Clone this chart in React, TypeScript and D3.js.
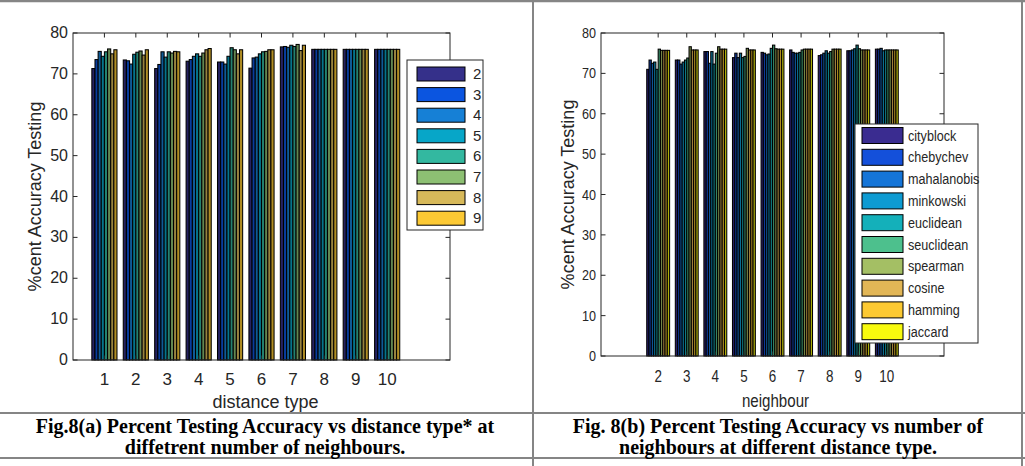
import * as d3 from "d3";

// Fig 8(a): accuracy by distance type (1..10), one bar per number of neighbours (2..9)
const distanceTypes = [1, 2, 3, 4, 5, 6, 7, 8, 9, 10];
const neighbourSeries = ["2", "3", "4", "5", "6", "7", "8", "9"];
const accByDistance = [
  [71.3, 73.5, 75.5, 74.3, 75.4, 76.1, 74.9, 75.9],
  [73.4, 73.2, 72.4, 74.8, 75.3, 75.6, 74.6, 75.9],
  [71.3, 72.3, 75.4, 74.1, 75.4, 75.1, 75.5, 75.4],
  [73.1, 73.5, 74.3, 74.9, 74.3, 75.1, 75.9, 76.2],
  [72.9, 72.9, 72.4, 74.3, 76.4, 75.9, 74.9, 75.9],
  [71.4, 73.9, 74.1, 74.9, 75.4, 75.5, 75.9, 75.9],
  [76.6, 76.7, 76.5, 77.0, 76.7, 77.2, 75.7, 77.0],
  [76.0, 76.0, 76.0, 76.0, 76.0, 76.0, 76.0, 76.0],
  [76.0, 76.0, 76.0, 76.0, 76.0, 76.0, 76.0, 76.0],
  [76.0, 76.0, 76.0, 76.0, 76.0, 76.0, 76.0, 76.0],
];
const colorsA = ["#35308a", "#0b55e0", "#1680d6", "#07a6c8", "#33b8a0", "#8dc073", "#d7b95a", "#fcc934"];

// Fig 8(b): accuracy by neighbours (2..10), one bar per distance type
const neighbourTicks = [2, 3, 4, 5, 6, 7, 8, 9, 10];
const distanceNames = [
  "cityblock", "chebychev", "mahalanobis", "minkowski", "euclidean",
  "seuclidean", "spearman", "cosine", "hamming", "jaccard",
];
const accByNeighbour = [
  [71.0, 73.3, 72.5, 72.8, 71.0, 76.0, 75.7, 75.7, 75.7, 75.7],
  [73.3, 73.3, 72.3, 72.8, 73.3, 73.8, 76.6, 75.8, 75.8, 75.8],
  [75.4, 75.4, 72.5, 75.4, 72.3, 75.0, 76.6, 76.0, 76.0, 76.0],
  [73.9, 75.0, 73.9, 75.0, 73.9, 74.2, 76.2, 75.8, 75.8, 75.8],
  [75.2, 75.0, 74.6, 74.8, 76.2, 77.0, 76.1, 76.0, 76.0, 76.0],
  [75.8, 75.2, 75.0, 75.0, 75.2, 75.8, 76.0, 76.0, 76.0, 76.0],
  [74.4, 74.6, 75.0, 75.6, 75.0, 75.4, 76.0, 76.0, 76.0, 76.0],
  [75.6, 75.6, 75.8, 76.1, 77.0, 76.1, 75.8, 75.8, 75.8, 75.8],
  [76.0, 76.0, 76.2, 75.6, 75.8, 75.8, 75.8, 75.8, 75.8, 75.8],
];
const colorsB = [
  "#3a2c90", "#1450da", "#1575d8", "#0e9bd2", "#14b0ba",
  "#4dc08d", "#a4bf64", "#e2b656", "#fcc932", "#f8fa0e",
];

const yTicks = [0, 10, 20, 30, 40, 50, 60, 70, 80];
const SANS = "'Liberation Sans', Arial, sans-serif";
const SERIF = "'Liberation Serif', 'Times New Roman', serif";
const AX = "#262626";

// thin bars read much darker in the original, so shade the bar fills a bit
const shade = (c: string) => d3.interpolateRgb(c, "#000")(0.3);

function T({ x, y, sx = 1, anchor = "middle", size, children, rot = 0 }: any) {
  return (
    <text
      transform={`translate(${x},${y}) rotate(${rot}) scale(${sx},1)`}
      textAnchor={anchor}
      fontSize={size}
      fontFamily={SANS}
      fill={AX}
    >
      {children}
    </text>
  );
}

function Panel({ box, groups, series, values, colors, xTicks, xLabel, sx, tickSize, legend }: any) {
  const x = d3.scaleLinear().domain([0, 12]).range([box.left, box.right]);
  const y = d3.scaleLinear().domain([0, 80]).range([box.bottom, box.top]);
  const gw = x(0.8) - x(0);
  const inner = d3.scaleBand<string>().domain(series).range([-gw / 2, gw / 2]);
  const tl = 4.5;
  const midY = (box.top + box.bottom) / 2;
  const midX = (box.left + box.right) / 2;

  return (
    <g>
      <rect x={box.left} y={box.top} width={box.right - box.left} height={box.bottom - box.top} fill="#fff" />
      {values.map((row: number[], gi: number) => (
        <g key={gi} transform={`translate(${x(groups[gi])},0)`}>
          {row.map((v, si) => (
            <rect
              key={si}
              x={inner(series[si])}
              width={inner.bandwidth()}
              y={y(v)}
              height={y(0) - y(v)}
              fill={shade(colors[si])}
              stroke="#000"
              strokeWidth={1.05}
            />
          ))}
        </g>
      ))}
      <rect
        x={box.left}
        y={box.top}
        width={box.right - box.left}
        height={box.bottom - box.top}
        fill="none"
        stroke={AX}
        strokeWidth={1}
      />
      {xTicks.map((t: number) => (
        <g key={t}>
          <line x1={x(t)} x2={x(t)} y1={box.top} y2={box.top + tl} stroke={AX} />
          <line x1={x(t)} x2={x(t)} y1={box.bottom} y2={box.bottom - tl} stroke={AX} />
          <T x={x(t)} y={box.bottom + box.xTickDy} sx={sx} size={tickSize}>
            {t}
          </T>
        </g>
      ))}
      {yTicks.map((t) => (
        <g key={t}>
          <line x1={box.left} x2={box.left + tl} y1={y(t)} y2={y(t)} stroke={AX} />
          <line x1={box.right} x2={box.right - tl} y1={y(t)} y2={y(t)} stroke={AX} />
          <T x={box.left - 5} y={y(t) + 5} sx={sx} anchor="end" size={box.yTickSize}>
            {t}
          </T>
        </g>
      ))}
      <T x={box.yLabelX} y={midY} rot={-90} size={18}>
        %cent Accuracy Testing
      </T>
      <T x={midX - box.xLabelShift} y={box.xLabelY} sx={sx} size={18}>
        {xLabel}
      </T>
      <g>
        <rect
          x={legend.x}
          y={legend.y}
          width={legend.w}
          height={legend.h}
          fill="#fff"
          stroke={AX}
          strokeWidth={1}
        />
        {legend.labels.map((lab: string, i: number) => {
          const cy = legend.first + i * legend.step;
          return (
            <g key={lab}>
              <rect
                x={legend.sx}
                y={cy - legend.sh / 2}
                width={legend.sw}
                height={legend.sh}
                fill={colors[i]}
                stroke="#000"
                strokeWidth={1}
              />
              <T x={legend.tx} y={cy + 5} sx={sx} anchor="start" size={15}>
                {lab}
              </T>
            </g>
          );
        })}
      </g>
    </g>
  );
}

export default function App() {
  const W = 1025,
    H = 466;
  const grid = "#858585";
  return (
    <div style={{ position: "absolute", left: 0, top: 0 }}>
      <svg width={W} height={H} viewBox={`0 0 ${W} ${H}`} style={{ display: "block", background: "#fff" }}>
        <Panel
          box={{
            left: 73, right: 450, top: 33, bottom: 360,
            xTickDy: 25, yTickSize: 16, yLabelX: 41, xLabelY: 408, xLabelShift: -4,
          }}
          groups={distanceTypes}
          series={neighbourSeries}
          values={accByDistance}
          colors={colorsA}
          xTicks={distanceTypes}
          xLabel="distance type"
          sx={1}
          tickSize={17}
          legend={{
            x: 407, y: 60, w: 76, h: 170, first: 74, step: 20.6,
            sx: 417, sw: 48, sh: 14, tx: 473, labels: neighbourSeries,
          }}
        />
        <Panel
          box={{
            left: 601, right: 944, top: 33, bottom: 356,
            xTickDy: 26, yTickSize: 15, yLabelX: 574, xLabelY: 407, xLabelShift: -3,
          }}
          groups={neighbourTicks}
          series={distanceNames}
          values={accByNeighbour}
          colors={colorsB}
          xTicks={neighbourTicks}
          xLabel="neighbour"
          sx={0.84}
          tickSize={16}
          legend={{
            x: 855, y: 124, w: 123, h: 219, first: 135.5, step: 21.8,
            sx: 862, sw: 41, sh: 16, tx: 908, labels: distanceNames,
          }}
        />

        {/* table rules */}
        <line x1={0} x2={W} y1={1} y2={1} stroke={grid} strokeWidth={2.5} />
        <line x1={0} x2={W} y1={413} y2={413} stroke={grid} strokeWidth={2} />
        <line x1={0} x2={W} y1={458} y2={458} stroke={grid} strokeWidth={2} />
        <line x1={533} x2={533} y1={0} y2={H} stroke={grid} strokeWidth={2} />
        <line x1={1022} x2={1022} y1={0} y2={H} stroke={grid} strokeWidth={2} />

        <g fontFamily={SERIF} fontWeight="bold" fontSize={20} textAnchor="middle" fill="#000">
          <text x={265} y={433}>Fig.8(a) Percent Testing Accuracy vs distance type* at</text>
          <text x={265} y={454}>diffetrent number of neighbours.</text>
          <text x={778} y={433}>Fig. 8(b) Percent Testing Accuracy vs number of</text>
          <text x={778} y={454}>neighbours at different distance type.</text>
        </g>
      </svg>
    </div>
  );
}
